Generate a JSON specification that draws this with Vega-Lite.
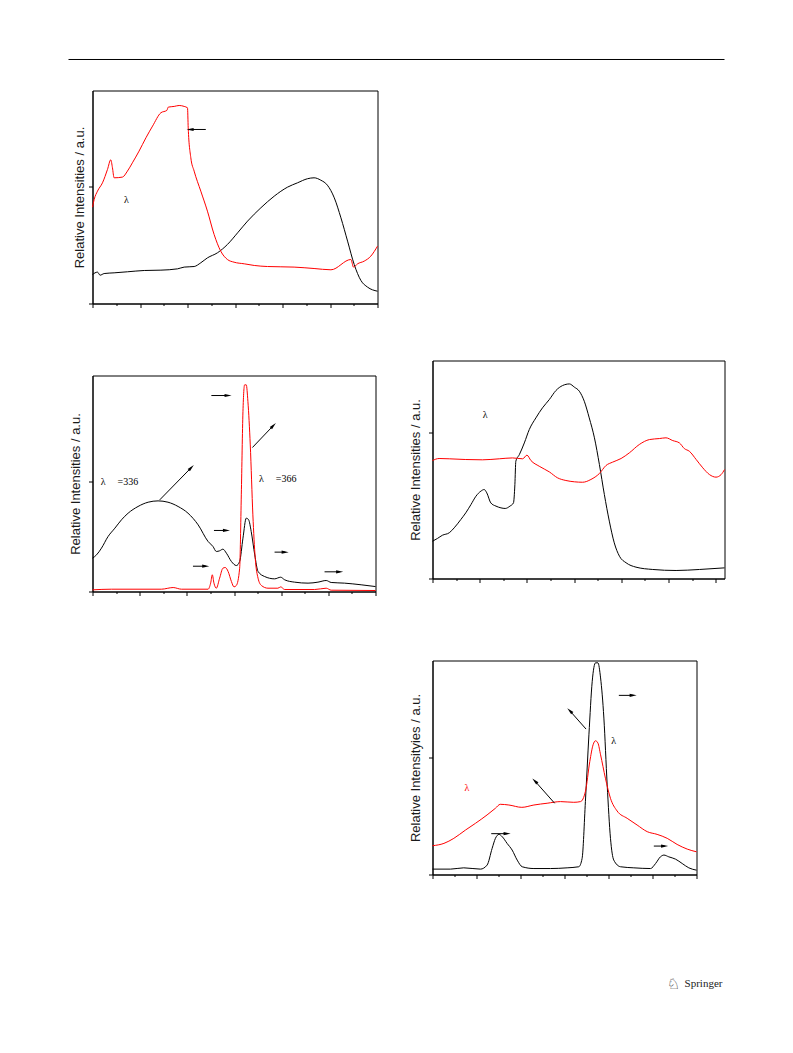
{
"$schema": "https://vega.github.io/schema/vega-lite/v6.json",
"background": "white",
"padding": {"left": 67.5, "top": 57.5, "right": 0, "bottom": 0},
"bounds": "full",
"spacing": -5,
"config": {
  "view": {"stroke": "black", "strokeWidth": 1},
  "axis": {"labels": false, "grid": false, "domainColor": "black", "tickColor": "black", "domainWidth": 1, "tickWidth": 1, "titleFont": "Liberation Sans", "titleFontSize": 13, "titleFontWeight": "normal", "titleColor": "#1a1a1a", "titlePadding": 2},
  "text": {"font": "Liberation Serif", "fontSize": 10}
},
"hconcat": [
{"vconcat": [
{
 "width": 285, "height": 213,
 "encoding": {
  "x": {"field": "x", "type": "quantitative", "scale": {"domain": [0, 12], "nice": false, "zero": false}, "axis": {"values": [0,1,2,3,4,5,6,7,8,9,10,11,12], "title": null, "tickSize": {"condition": {"test": "datum.value % 2 === 0", "value": 4}, "value": 2}}},
  "y": {"field": "y", "type": "quantitative", "scale": {"domain": [0, 1.82], "nice": false, "zero": false}, "axis": {"values": [0, 1], "tickSize": 4, "title": "Relative Intensities / a.u."}}
 },
 "layer": [
  {"data": {"values": [
   {"x":0,"y":0.248,"s":"k"},{"x":0.21,"y":0.268,"s":"k"},{"x":0.32,"y":0.242,"s":"k"},{"x":0.49,"y":0.256,"s":"k"},{"x":0.91,"y":0.262,"s":"k"},{"x":1.47,"y":0.271,"s":"k"},{"x":2.18,"y":0.282,"s":"k"},{"x":2.88,"y":0.285,"s":"k"},{"x":3.58,"y":0.296,"s":"k"},{"x":3.86,"y":0.311,"s":"k"},{"x":4.28,"y":0.316,"s":"k"},{"x":4.56,"y":0.348,"s":"k"},{"x":4.84,"y":0.39,"s":"k"},{"x":5.26,"y":0.433,"s":"k"},{"x":5.68,"y":0.504,"s":"k"},{"x":6.11,"y":0.604,"s":"k"},{"x":6.53,"y":0.704,"s":"k"},{"x":7.09,"y":0.818,"s":"k"},{"x":7.65,"y":0.917,"s":"k"},{"x":8.21,"y":0.994,"s":"k"},{"x":8.63,"y":1.031,"s":"k"},{"x":9.05,"y":1.066,"s":"k"},{"x":9.33,"y":1.074,"s":"k"},{"x":9.61,"y":1.054,"s":"k"},{"x":9.89,"y":1.011,"s":"k"},{"x":10.18,"y":0.903,"s":"k"},{"x":10.46,"y":0.732,"s":"k"},{"x":10.74,"y":0.533,"s":"k"},{"x":11.02,"y":0.333,"s":"k"},{"x":11.3,"y":0.197,"s":"k"},{"x":11.58,"y":0.14,"s":"k"},{"x":12,"y":0.105,"s":"k"},
   {"x":0,"y":0.823,"s":"r"},{"x":0.07,"y":0.889,"s":"r"},{"x":0.21,"y":0.96,"s":"r"},{"x":0.42,"y":1.031,"s":"r"},{"x":0.63,"y":1.145,"s":"r"},{"x":0.77,"y":1.228,"s":"r"},{"x":0.84,"y":1.16,"s":"r"},{"x":0.91,"y":1.074,"s":"r"},{"x":1.26,"y":1.08,"s":"r"},{"x":1.47,"y":1.131,"s":"r"},{"x":1.68,"y":1.202,"s":"r"},{"x":1.96,"y":1.302,"s":"r"},{"x":2.25,"y":1.416,"s":"r"},{"x":2.53,"y":1.516,"s":"r"},{"x":2.88,"y":1.63,"s":"r"},{"x":3.13,"y":1.65,"s":"r"},{"x":3.19,"y":1.678,"s":"r"},{"x":3.44,"y":1.684,"s":"r"},{"x":3.65,"y":1.692,"s":"r"},{"x":3.86,"y":1.684,"s":"r"},{"x":4.0,"y":1.672,"s":"r"},{"x":4.03,"y":1.501,"s":"r"},{"x":4.14,"y":1.245,"s":"r"},{"x":4.28,"y":1.131,"s":"r"},{"x":4.56,"y":0.96,"s":"r"},{"x":4.84,"y":0.789,"s":"r"},{"x":5.12,"y":0.59,"s":"r"},{"x":5.4,"y":0.447,"s":"r"},{"x":5.68,"y":0.376,"s":"r"},{"x":5.96,"y":0.353,"s":"r"},{"x":6.39,"y":0.339,"s":"r"},{"x":6.81,"y":0.325,"s":"r"},{"x":7.37,"y":0.316,"s":"r"},{"x":8.49,"y":0.311,"s":"r"},{"x":9.33,"y":0.299,"s":"r"},{"x":10.04,"y":0.288,"s":"r"},{"x":10.88,"y":0.376,"s":"r"},{"x":10.99,"y":0.311,"s":"r"},{"x":11.16,"y":0.339,"s":"r"},{"x":11.44,"y":0.362,"s":"r"},{"x":11.72,"y":0.405,"s":"r"},{"x":12,"y":0.49,"s":"r"}
  ]},
   "mark": {"type": "line", "strokeWidth": 1, "interpolate": "monotone"},
   "encoding": {"color": {"field": "s", "type": "nominal", "scale": {"domain": ["k", "r"], "range": ["#000000", "#ff0000"]}, "legend": null}}},
  {"data": {"values": [{"x":4.11,"y":1.487,"x2":4.77,"y2":1.487}]},
   "mark": {"type": "rule", "color": "black", "strokeWidth": 1},
   "encoding": {"x2": {"field": "x2"}, "y2": {"field": "y2"}}},
  {"data": {"values": [{"x":4.11,"y":1.487,"d":"left"}]},
   "mark": {"type": "point", "filled": true, "color": "black", "size": 50, "opacity": 1},
   "encoding": {"shape": {"field": "d", "type": "nominal", "scale": {"domain": ["right","left","ne","nw"], "range": ["M1,0L-1,-0.45L-1,0.45Z","M-1,0L1,-0.45L1,0.45Z","M0.707,-0.707L-0.389,1.025L-1.025,0.389Z","M-0.707,-0.707L1.025,0.389L0.389,1.025Z"]}, "legend": null}}},
  {"data": {"values": [{"x":1.33,"y":0.883,"t":"λ","s":"k"}]},
   "mark": {"type": "text", "align": "left", "baseline": "middle"},
   "encoding": {"text": {"field": "t"}, "color": {"field": "s", "type": "nominal", "scale": {"domain": ["k", "r"], "range": ["#000000", "#ff0000"]}, "legend": null}}},
  {"data": {"values": [{"x":-1.01,"x2":12.0,"y":2.085}]},
   "mark": {"type": "rule", "color": "black", "strokeWidth": 1},
   "encoding": {"x2": {"field": "x2"}}}
 ]
},
{
 "width": 283, "height": 216,
 "encoding": {
  "x": {"field": "x", "type": "quantitative", "scale": {"domain": [0, 12], "nice": false, "zero": false}, "axis": {"values": [0,1,2,3,4,5,6,7,8,9,10,11,12], "title": null, "tickSize": {"condition": {"test": "datum.value % 2 === 0", "value": 4}, "value": 2}}},
  "y": {"field": "y", "type": "quantitative", "scale": {"domain": [0, 1.964], "nice": false, "zero": false}, "axis": {"values": [0, 1], "tickSize": 4, "title": "Relative Intensities / a.u.", "titlePadding": 6}}
 },
 "layer": [
  {"data": {"values": [
   {"x":0,"y":0.303,"s":"k"},{"x":0.17,"y":0.333,"s":"k"},{"x":0.38,"y":0.394,"s":"k"},{"x":0.66,"y":0.5,"s":"k"},{"x":0.95,"y":0.576,"s":"k"},{"x":1.23,"y":0.652,"s":"k"},{"x":1.51,"y":0.712,"s":"k"},{"x":1.93,"y":0.773,"s":"k"},{"x":2.36,"y":0.812,"s":"k"},{"x":2.78,"y":0.824,"s":"k"},{"x":3.2,"y":0.812,"s":"k"},{"x":3.63,"y":0.773,"s":"k"},{"x":4.05,"y":0.712,"s":"k"},{"x":4.48,"y":0.606,"s":"k"},{"x":4.9,"y":0.455,"s":"k"},{"x":5.11,"y":0.409,"s":"k"},{"x":5.25,"y":0.364,"s":"k"},{"x":5.39,"y":0.37,"s":"k"},{"x":5.53,"y":0.385,"s":"k"},{"x":5.68,"y":0.348,"s":"k"},{"x":5.89,"y":0.273,"s":"k"},{"x":6.1,"y":0.236,"s":"k"},{"x":6.24,"y":0.273,"s":"k"},{"x":6.38,"y":0.485,"s":"k"},{"x":6.52,"y":0.667,"s":"k"},{"x":6.62,"y":0.652,"s":"k"},{"x":6.73,"y":0.545,"s":"k"},{"x":6.88,"y":0.333,"s":"k"},{"x":7.02,"y":0.182,"s":"k"},{"x":7.3,"y":0.136,"s":"k"},{"x":7.72,"y":0.115,"s":"k"},{"x":7.98,"y":0.13,"s":"k"},{"x":8.15,"y":0.106,"s":"k"},{"x":8.57,"y":0.085,"s":"k"},{"x":9.14,"y":0.076,"s":"k"},{"x":9.56,"y":0.085,"s":"k"},{"x":9.91,"y":0.1,"s":"k"},{"x":10.12,"y":0.082,"s":"k"},{"x":10.69,"y":0.076,"s":"k"},{"x":11.39,"y":0.061,"s":"k"},{"x":12,"y":0.045,"s":"k"},
   {"x":0,"y":0.015,"s":"r"},{"x":0.8,"y":0.021,"s":"r"},{"x":2.92,"y":0.021,"s":"r"},{"x":3.42,"y":0.036,"s":"r"},{"x":3.77,"y":0.021,"s":"r"},{"x":4.9,"y":0.021,"s":"r"},{"x":5.01,"y":0.076,"s":"r"},{"x":5.08,"y":0.152,"s":"r"},{"x":5.15,"y":0.076,"s":"r"},{"x":5.25,"y":0.03,"s":"r"},{"x":5.39,"y":0.121,"s":"r"},{"x":5.53,"y":0.212,"s":"r"},{"x":5.63,"y":0.218,"s":"r"},{"x":5.75,"y":0.182,"s":"r"},{"x":5.89,"y":0.091,"s":"r"},{"x":6.0,"y":0.042,"s":"r"},{"x":6.1,"y":0.055,"s":"r"},{"x":6.24,"y":0.212,"s":"r"},{"x":6.31,"y":0.879,"s":"r"},{"x":6.38,"y":1.636,"s":"r"},{"x":6.45,"y":1.879,"s":"r"},{"x":6.52,"y":1.879,"s":"r"},{"x":6.59,"y":1.727,"s":"r"},{"x":6.69,"y":1.333,"s":"r"},{"x":6.8,"y":0.697,"s":"r"},{"x":6.9,"y":0.303,"s":"r"},{"x":7.02,"y":0.121,"s":"r"},{"x":7.16,"y":0.055,"s":"r"},{"x":7.44,"y":0.03,"s":"r"},{"x":7.86,"y":0.03,"s":"r"},{"x":7.98,"y":0.042,"s":"r"},{"x":8.15,"y":0.018,"s":"r"},{"x":9.42,"y":0.018,"s":"r"},{"x":9.91,"y":0.03,"s":"r"},{"x":10.12,"y":0.012,"s":"r"},{"x":12,"y":0.009,"s":"r"}
  ]},
   "mark": {"type": "line", "strokeWidth": 1, "interpolate": "monotone"},
   "encoding": {"color": {"field": "s", "type": "nominal", "scale": {"domain": ["k", "r"], "range": ["#000000", "#ff0000"]}, "legend": null}}},
  {"data": {"values": [
   {"x":5.75,"y":1.782,"x2":5.04,"y2":1.782},{"x":5.68,"y":0.555,"x2":5.15,"y2":0.555},{"x":4.8,"y":0.23,"x2":4.26,"y2":0.23},{"x":8.17,"y":0.358,"x2":7.72,"y2":0.358},{"x":10.48,"y":0.179,"x2":9.84,"y2":0.179},{"x":7.67,"y":1.509,"x2":6.78,"y2":1.309},{"x":4.19,"y":1.127,"x2":2.85,"y2":0.833}]},
   "mark": {"type": "rule", "color": "black", "strokeWidth": 1},
   "encoding": {"x2": {"field": "x2"}, "y2": {"field": "y2"}}},
  {"data": {"values": [
   {"x":5.75,"y":1.782,"d":"right"},{"x":5.68,"y":0.555,"d":"right"},{"x":4.8,"y":0.23,"d":"right"},{"x":8.17,"y":0.358,"d":"right"},{"x":10.48,"y":0.179,"d":"right"},{"x":7.67,"y":1.509,"d":"ne"},{"x":4.19,"y":1.127,"d":"ne"}]},
   "mark": {"type": "point", "filled": true, "color": "black", "size": 50, "opacity": 1},
   "encoding": {"shape": {"field": "d", "type": "nominal", "scale": {"domain": ["right","left","ne","nw"], "range": ["M1,0L-1,-0.45L-1,0.45Z","M-1,0L1,-0.45L1,0.45Z","M0.707,-0.707L-0.389,1.025L-1.025,0.389Z","M-0.707,-0.707L1.025,0.389L0.389,1.025Z"]}, "legend": null}}},
  {"data": {"values": [{"x":0.35,"y":0.994,"t":"λ","s":"k"},{"x":1.06,"y":0.994,"t":"=336","s":"k"},{"x":7.06,"y":1.024,"t":"λ","s":"k"},{"x":7.77,"y":1.024,"t":"=366","s":"k"}]},
   "mark": {"type": "text", "align": "left", "baseline": "middle"},
   "encoding": {"text": {"field": "t"}, "color": {"field": "s", "type": "nominal", "scale": {"domain": ["k", "r"], "range": ["#000000", "#ff0000"]}, "legend": null}}}
 ]
}
], "spacing": 72, "bounds": "flush"},
{"vconcat": [
{"width": 292, "height": 188,
 "data": {"values": [{"x": -0.1918, "x2": 1.0, "y": 1.1649}]},
 "mark": {"type": "rule", "color": "black", "strokeWidth": 1},
 "encoding": {
  "x": {"field": "x", "type": "quantitative", "scale": {"domain": [0, 1], "nice": false, "zero": false}, "axis": null},
  "x2": {"field": "x2"},
  "y": {"field": "y", "type": "quantitative", "scale": {"domain": [0, 1], "nice": false, "zero": false}, "axis": null}
 },
 "view": {"stroke": null}},
{
 "width": 292, "height": 218,
 "encoding": {
  "x": {"field": "x", "type": "quantitative", "scale": {"domain": [0, 12.37], "nice": false, "zero": false}, "axis": {"values": [0,1,2,3,4,5,6,7,8,9,10,11,12], "title": null, "tickSize": {"condition": {"test": "datum.value % 2 === 0", "value": 4}, "value": 2}}},
  "y": {"field": "y", "type": "quantitative", "scale": {"domain": [0, 1.497], "nice": false, "zero": false}, "axis": {"values": [0, 1], "tickSize": 4, "title": "Relative Intensities / a.u.", "titlePadding": 6}}
 },
 "layer": [
  {"data": {"values": [
   {"x":0,"y":0.256,"s":"k"},{"x":0.21,"y":0.275,"s":"k"},{"x":0.42,"y":0.297,"s":"k"},{"x":0.71,"y":0.314,"s":"k"},{"x":0.92,"y":0.348,"s":"k"},{"x":1.2,"y":0.405,"s":"k"},{"x":1.41,"y":0.451,"s":"k"},{"x":1.63,"y":0.508,"s":"k"},{"x":1.84,"y":0.565,"s":"k"},{"x":2.05,"y":0.6,"s":"k"},{"x":2.19,"y":0.611,"s":"k"},{"x":2.3,"y":0.588,"s":"k"},{"x":2.47,"y":0.519,"s":"k"},{"x":2.69,"y":0.497,"s":"k"},{"x":2.9,"y":0.485,"s":"k"},{"x":3.08,"y":0.481,"s":"k"},{"x":3.28,"y":0.497,"s":"k"},{"x":3.43,"y":0.519,"s":"k"},{"x":3.49,"y":0.645,"s":"k"},{"x":3.53,"y":0.805,"s":"k"},{"x":3.68,"y":0.851,"s":"k"},{"x":3.89,"y":0.931,"s":"k"},{"x":4.1,"y":1.023,"s":"k"},{"x":4.38,"y":1.103,"s":"k"},{"x":4.66,"y":1.172,"s":"k"},{"x":4.95,"y":1.229,"s":"k"},{"x":5.23,"y":1.291,"s":"k"},{"x":5.51,"y":1.325,"s":"k"},{"x":5.8,"y":1.336,"s":"k"},{"x":6.01,"y":1.314,"s":"k"},{"x":6.22,"y":1.286,"s":"k"},{"x":6.43,"y":1.217,"s":"k"},{"x":6.64,"y":1.103,"s":"k"},{"x":6.86,"y":0.966,"s":"k"},{"x":7.07,"y":0.783,"s":"k"},{"x":7.28,"y":0.577,"s":"k"},{"x":7.49,"y":0.394,"s":"k"},{"x":7.7,"y":0.245,"s":"k"},{"x":7.92,"y":0.153,"s":"k"},{"x":8.2,"y":0.108,"s":"k"},{"x":8.62,"y":0.078,"s":"k"},{"x":9.33,"y":0.062,"s":"k"},{"x":10.32,"y":0.055,"s":"k"},{"x":11.31,"y":0.062,"s":"k"},{"x":12.37,"y":0.073,"s":"k"},
   {"x":0,"y":0.81,"s":"r"},{"x":0.28,"y":0.824,"s":"r"},{"x":0.71,"y":0.822,"s":"r"},{"x":1.41,"y":0.817,"s":"r"},{"x":2.12,"y":0.815,"s":"r"},{"x":2.83,"y":0.822,"s":"r"},{"x":3.39,"y":0.828,"s":"r"},{"x":3.82,"y":0.822,"s":"r"},{"x":4.0,"y":0.847,"s":"r"},{"x":4.17,"y":0.81,"s":"r"},{"x":4.52,"y":0.771,"s":"r"},{"x":4.95,"y":0.732,"s":"r"},{"x":5.3,"y":0.691,"s":"r"},{"x":5.65,"y":0.673,"s":"r"},{"x":6.01,"y":0.664,"s":"r"},{"x":6.36,"y":0.661,"s":"r"},{"x":6.71,"y":0.68,"s":"r"},{"x":7.07,"y":0.721,"s":"r"},{"x":7.35,"y":0.776,"s":"r"},{"x":7.63,"y":0.799,"s":"r"},{"x":7.99,"y":0.824,"s":"r"},{"x":8.34,"y":0.863,"s":"r"},{"x":8.76,"y":0.92,"s":"r"},{"x":9.19,"y":0.954,"s":"r"},{"x":9.61,"y":0.961,"s":"r"},{"x":9.89,"y":0.966,"s":"r"},{"x":10.18,"y":0.947,"s":"r"},{"x":10.46,"y":0.931,"s":"r"},{"x":10.67,"y":0.892,"s":"r"},{"x":10.88,"y":0.874,"s":"r"},{"x":11.17,"y":0.817,"s":"r"},{"x":11.45,"y":0.76,"s":"r"},{"x":11.73,"y":0.714,"s":"r"},{"x":12.01,"y":0.696,"s":"r"},{"x":12.23,"y":0.714,"s":"r"},{"x":12.37,"y":0.748,"s":"r"}
  ]},
   "mark": {"type": "line", "strokeWidth": 1, "interpolate": "monotone"},
   "encoding": {"color": {"field": "s", "type": "nominal", "scale": {"domain": ["k", "r"], "range": ["#000000", "#ff0000"]}, "legend": null}}},
  {"data": {"values": [{"x":2.13,"y":1.121,"t":"λ","s":"k"}]},
   "mark": {"type": "text", "align": "left", "baseline": "middle"},
   "encoding": {"text": {"field": "t"}, "color": {"field": "s", "type": "nominal", "scale": {"domain": ["k", "r"], "range": ["#000000", "#ff0000"]}, "legend": null}}}
 ]
},
{
 "width": 264, "height": 214,
 "encoding": {
  "x": {"field": "x", "type": "quantitative", "scale": {"domain": [0, 12], "nice": false, "zero": false}, "axis": {"values": [0,1,2,3,4,5,6,7,8,9,10,11,12], "title": null, "tickSize": {"condition": {"test": "datum.value % 2 === 0", "value": 4}, "value": 2}}},
  "y": {"field": "y", "type": "quantitative", "scale": {"domain": [0, 1.829], "nice": false, "zero": false}, "axis": {"values": [0, 1], "tickSize": 4, "title": "Relative Intensityies / a.u.", "titlePadding": 6}}
 },
 "layer": [
  {"data": {"values": [
   {"x":0,"y":0.046,"s":"k"},{"x":0.82,"y":0.046,"s":"k"},{"x":1.42,"y":0.057,"s":"k"},{"x":2.18,"y":0.046,"s":"k"},{"x":2.48,"y":0.08,"s":"k"},{"x":2.71,"y":0.223,"s":"k"},{"x":2.86,"y":0.309,"s":"k"},{"x":3.02,"y":0.343,"s":"k"},{"x":3.17,"y":0.323,"s":"k"},{"x":3.39,"y":0.266,"s":"k"},{"x":3.62,"y":0.209,"s":"k"},{"x":3.85,"y":0.123,"s":"k"},{"x":4.08,"y":0.066,"s":"k"},{"x":4.61,"y":0.051,"s":"k"},{"x":5.36,"y":0.051,"s":"k"},{"x":6.12,"y":0.057,"s":"k"},{"x":6.65,"y":0.066,"s":"k"},{"x":6.8,"y":0.137,"s":"k"},{"x":6.95,"y":0.623,"s":"k"},{"x":7.11,"y":1.194,"s":"k"},{"x":7.26,"y":1.651,"s":"k"},{"x":7.41,"y":1.809,"s":"k"},{"x":7.52,"y":1.809,"s":"k"},{"x":7.64,"y":1.68,"s":"k"},{"x":7.79,"y":1.337,"s":"k"},{"x":7.94,"y":0.766,"s":"k"},{"x":8.09,"y":0.309,"s":"k"},{"x":8.24,"y":0.123,"s":"k"},{"x":8.55,"y":0.066,"s":"k"},{"x":9.15,"y":0.057,"s":"k"},{"x":9.91,"y":0.051,"s":"k"},{"x":10.14,"y":0.094,"s":"k"},{"x":10.36,"y":0.151,"s":"k"},{"x":10.52,"y":0.166,"s":"k"},{"x":10.74,"y":0.151,"s":"k"},{"x":11.05,"y":0.131,"s":"k"},{"x":11.35,"y":0.094,"s":"k"},{"x":11.65,"y":0.057,"s":"k"},{"x":12,"y":0.037,"s":"k"},
   {"x":0,"y":0.246,"s":"r"},{"x":0.52,"y":0.266,"s":"r"},{"x":0.97,"y":0.309,"s":"r"},{"x":1.5,"y":0.38,"s":"r"},{"x":1.95,"y":0.437,"s":"r"},{"x":2.48,"y":0.509,"s":"r"},{"x":2.86,"y":0.566,"s":"r"},{"x":3.08,"y":0.6,"s":"r"},{"x":3.47,"y":0.594,"s":"r"},{"x":4.06,"y":0.574,"s":"r"},{"x":4.61,"y":0.594,"s":"r"},{"x":5.21,"y":0.609,"s":"r"},{"x":5.82,"y":0.623,"s":"r"},{"x":6.42,"y":0.617,"s":"r"},{"x":6.73,"y":0.623,"s":"r"},{"x":6.95,"y":0.709,"s":"r"},{"x":7.15,"y":0.966,"s":"r"},{"x":7.3,"y":1.109,"s":"r"},{"x":7.41,"y":1.143,"s":"r"},{"x":7.52,"y":1.123,"s":"r"},{"x":7.64,"y":1.023,"s":"r"},{"x":7.86,"y":0.823,"s":"r"},{"x":8.09,"y":0.651,"s":"r"},{"x":8.39,"y":0.543,"s":"r"},{"x":8.85,"y":0.48,"s":"r"},{"x":9.3,"y":0.423,"s":"r"},{"x":9.76,"y":0.366,"s":"r"},{"x":10.21,"y":0.343,"s":"r"},{"x":10.67,"y":0.309,"s":"r"},{"x":11.12,"y":0.257,"s":"r"},{"x":11.58,"y":0.217,"s":"r"},{"x":12,"y":0.194,"s":"r"}
  ]},
   "mark": {"type": "line", "strokeWidth": 1, "interpolate": "monotone"},
   "encoding": {"color": {"field": "s", "type": "nominal", "scale": {"domain": ["k", "r"], "range": ["#000000", "#ff0000"]}, "legend": null}}},
  {"data": {"values": [
   {"x":9.12,"y":1.531,"x2":8.47,"y2":1.531},{"x":3.39,"y":0.349,"x2":2.67,"y2":0.349},{"x":10.55,"y":0.243,"x2":10.06,"y2":0.243},{"x":6.24,"y":1.4,"x2":6.98,"y2":1.243},{"x":4.65,"y":0.8,"x2":5.55,"y2":0.609}]},
   "mark": {"type": "rule", "color": "black", "strokeWidth": 1},
   "encoding": {"x2": {"field": "x2"}, "y2": {"field": "y2"}}},
  {"data": {"values": [
   {"x":9.12,"y":1.531,"d":"right"},{"x":3.39,"y":0.349,"d":"right"},{"x":10.55,"y":0.243,"d":"right"},{"x":6.24,"y":1.4,"d":"nw"},{"x":4.65,"y":0.8,"d":"nw"}]},
   "mark": {"type": "point", "filled": true, "color": "black", "size": 50, "opacity": 1},
   "encoding": {"shape": {"field": "d", "type": "nominal", "scale": {"domain": ["right","left","ne","nw"], "range": ["M1,0L-1,-0.45L-1,0.45Z","M-1,0L1,-0.45L1,0.45Z","M0.707,-0.707L-0.389,1.025L-1.025,0.389Z","M-0.707,-0.707L1.025,0.389L0.389,1.025Z"]}, "legend": null}}},
  {"data": {"values": [{"x":8.13,"y":1.143,"t":"λ","s":"k"},{"x":1.46,"y":0.737,"t":"λ","s":"r"}]},
   "mark": {"type": "text", "align": "left", "baseline": "middle"},
   "encoding": {"text": {"field": "t"}, "color": {"field": "s", "type": "nominal", "scale": {"domain": ["k", "r"], "range": ["#000000", "#ff0000"]}, "legend": null}}},
  {"data": {"values": [{"x":13.18,"y":-0.94,"t":"Springer"}]},
   "mark": {"type": "text", "align": "right", "baseline": "middle", "fontSize": 11, "color": "#222222"},
   "encoding": {"text": {"field": "t"}}},
  {"data": {"values": [{"x":10.95,"y":-0.94,"t":"♘"}]},
   "mark": {"type": "text", "align": "center", "baseline": "middle", "fontSize": 15, "font": "DejaVu Sans", "color": "#222222"},
   "encoding": {"text": {"field": "t"}}}
 ]
}
], "spacing": 82, "bounds": "flush"}
]
}
